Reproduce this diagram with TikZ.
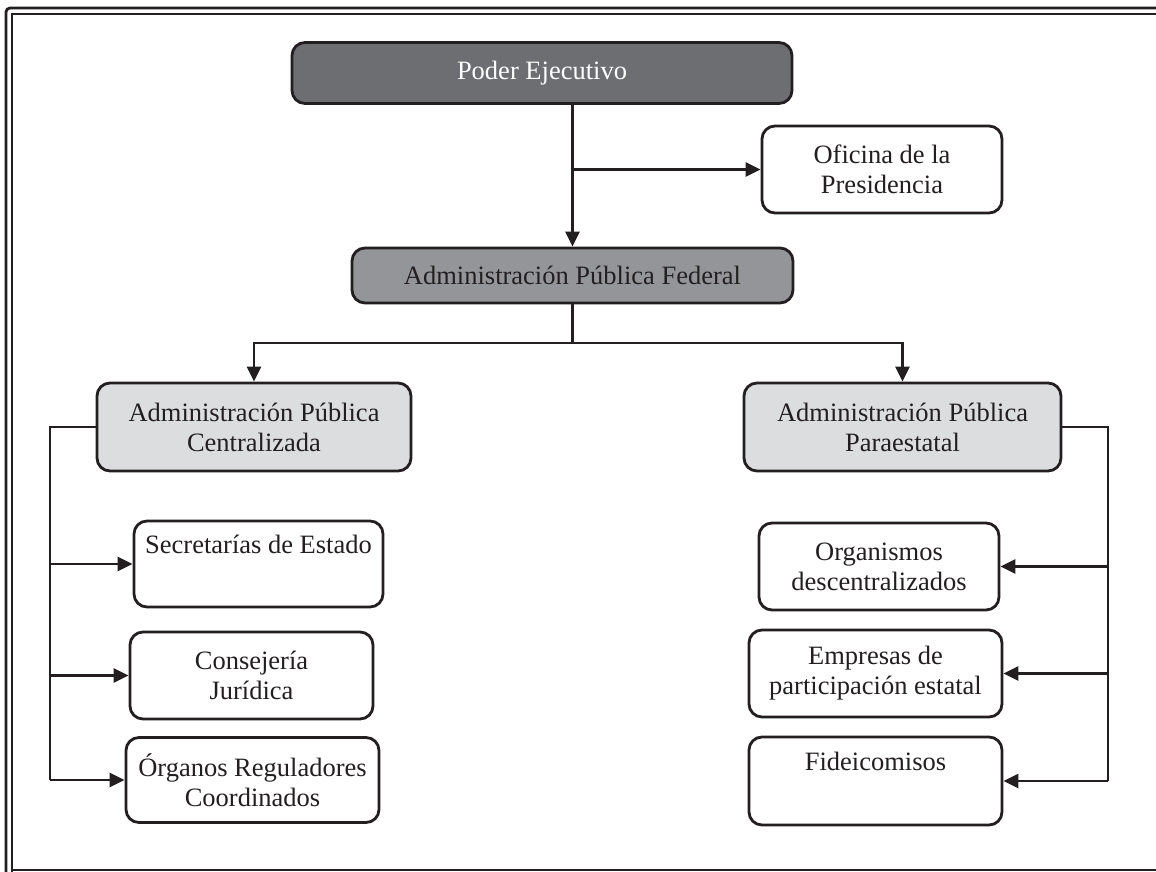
\documentclass[tikz,border=0pt]{standalone}
\usepackage{fontspec}
\setmainfont{Liberation Serif}
\usetikzlibrary{arrows.meta}
\definecolor{ink}{HTML}{231F20}
\definecolor{dark}{HTML}{6D6E71}
\definecolor{mid}{HTML}{939598}
\definecolor{light}{HTML}{DCDDDE}
\tikzset{
  box/.style={draw=ink, line width=2.8pt, rounded corners=13pt, fill=white,
    inner sep=0pt, align=center, text=ink,
    font=\fontsize{26.5}{30}\selectfont},
  arr/.style={draw=ink, line width=2.9pt, -{Triangle[length=15pt,width=14pt]}},
  conn/.style={draw=ink, line width=2.9pt},
  frame/.style={draw=ink, line width=2.8pt}
}
\begin{document}
\begin{tikzpicture}[x=1pt,y=-1pt]
\useasboundingbox (0,0) rectangle (1156,872);
\begin{scope}
\clip (0,0) rectangle (1156,872);
% frame
\draw[frame, rounded corners=4pt] (6,880) -- (6,8) -- (1170,8);
\draw[frame] (12,880) -- (12,14) -- (1170,14);
\draw[frame] (12,870) -- (1170,870);
\end{scope}
% nodes
\node[box, fill=dark, text=white, minimum width=500, minimum height=61] (pe) at (542,73) {Poder Ejecutivo};
\node[box, minimum width=240, minimum height=87] (of) at (882,169.5) {Oficina de la\\Presidencia};
\node[box, fill=mid, minimum width=441, minimum height=55] (apf) at (572.5,275.5) {Administración Pública Federal};
\node[box, fill=light, minimum width=314, minimum height=88] (cen) at (254,427) {Administración Pública\\Centralizada};
\node[box, fill=light, minimum width=317, minimum height=88] (par) at (902.5,427) {Administración Pública\\Paraestatal};
\node[box, minimum width=249, minimum height=86] (sec) at (258.5,564) {Secretarías de Estado\\\strut};
\node[box, minimum width=243, minimum height=87] (cons) at (251.5,675.5) {Consejería\\Jurídica};
\node[box, minimum width=253, minimum height=85] (org) at (252.5,780) {Órganos Reguladores\\Coordinados};
\node[box, minimum width=240, minimum height=87] (od) at (879,566.5) {Organismos\\descentralizados};
\node[box, minimum width=253, minimum height=87] (emp) at (875.5,673.5) {Empresas de\\participación estatal};
\node[box, minimum width=253, minimum height=88] (fid) at (875.5,781) {Fideicomisos\\\strut};
% connectors
\draw[arr] (apf.north |- pe.south) -- (apf.north);
\draw[arr] (apf.north |- of.west) -- (of.west);
\coordinate (j) at (572.5,343);
\draw[conn] (apf.south) -- (j);
\draw[arr] (j) -| (cen.north);
\draw[arr] (j) -| (par.north);
\coordinate (cl) at (50,427);
\draw[conn] (cen.west) -- (cl) -- (cl |- org.west);
\draw[arr] (cl |- sec.west) -- (sec.west);
\draw[arr] (cl |- cons.west) -- (cons.west);
\draw[arr] (cl |- org.west) -- (org.west);
\coordinate (cr) at (1108,427);
\draw[conn] (par.east) -- (cr) -- (cr |- fid.east);
\draw[arr] (cr |- od.east) -- (od.east);
\draw[arr] (cr |- emp.east) -- (emp.east);
\draw[arr] (cr |- fid.east) -- (fid.east);
\end{tikzpicture}
\end{document}
